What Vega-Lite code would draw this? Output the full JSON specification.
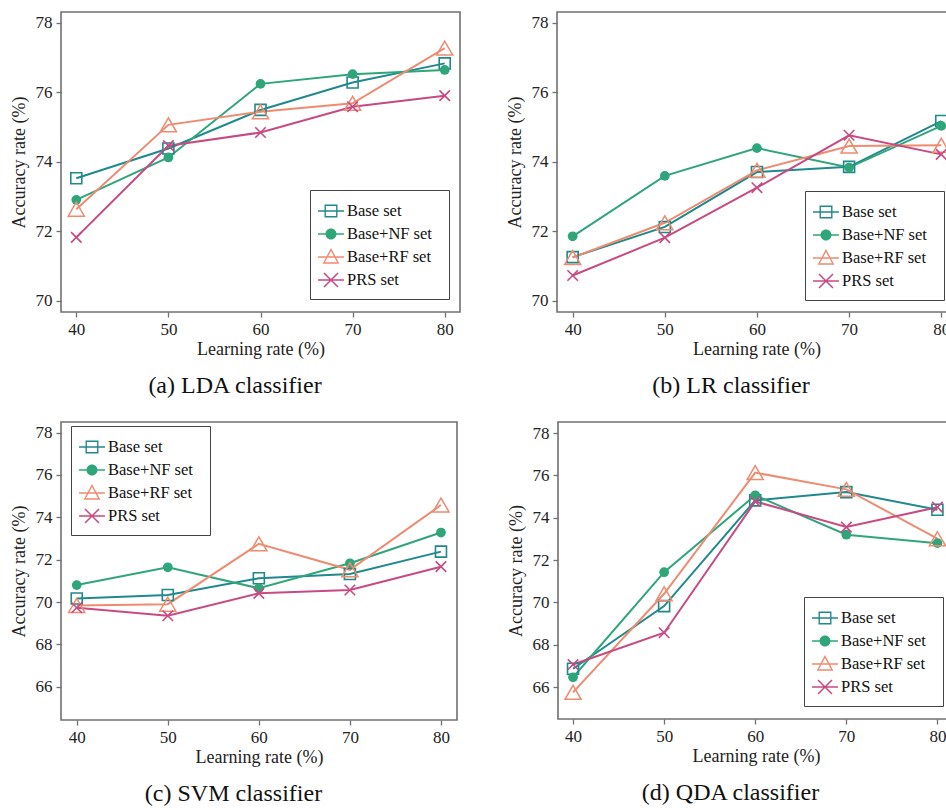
{
  "$schema": "https://vega.github.io/schema/vega-lite/v6.json",
  "background": "white",
  "padding": {"left": 9, "top": 11, "right": 0, "bottom": 0},
  "config": {
    "font": "Liberation Serif",
    "view": {"stroke": "#707070", "strokeWidth": 1.6},
    "axis": {"domain": false, "grid": false, "tickColor": "#707070", "tickSize": 5, "tickWidth": 1.3, "labelFont": "Liberation Serif", "labelFontSize": 17, "labelColor": "#222222", "titleFont": "Liberation Serif", "titleFontSize": 18, "titleFontWeight": "normal", "titleColor": "#222222", "labelPadding": 4},
    "axisY": {"titlePadding": 7},
    "axisX": {"titlePadding": 3},
    "legend": {"labelFont": "Liberation Serif", "labelFontSize": 16.5, "labelColor": "#111111", "symbolSize": 484, "symbolStrokeWidth": 0, "strokeColor": "#444444", "fillColor": "white", "padding": 10, "rowPadding": 3, "labelOffset": 5, "symbolOffset": 0, "labelLimit": 300, "titleOrient": "right", "titleFontSize": 16, "titlePadding": 7},
    "title": {"font": "Liberation Serif", "fontSize": 24, "fontWeight": "normal", "color": "#111111", "orient": "bottom", "frame": "bounds", "anchor": "middle", "offset": 16}
  },
  "datasets": {
    "acc": [
      {"clf": "LDA", "lr": 40, "set": "Base set", "acc": 73.52},
      {"clf": "LDA", "lr": 50, "set": "Base set", "acc": 74.38},
      {"clf": "LDA", "lr": 60, "set": "Base set", "acc": 75.49},
      {"clf": "LDA", "lr": 70, "set": "Base set", "acc": 76.28},
      {"clf": "LDA", "lr": 80, "set": "Base set", "acc": 76.83},
      {"clf": "LDA", "lr": 40, "set": "Base+NF set", "acc": 72.90},
      {"clf": "LDA", "lr": 50, "set": "Base+NF set", "acc": 74.12},
      {"clf": "LDA", "lr": 60, "set": "Base+NF set", "acc": 76.24},
      {"clf": "LDA", "lr": 70, "set": "Base+NF set", "acc": 76.52},
      {"clf": "LDA", "lr": 80, "set": "Base+NF set", "acc": 76.64},
      {"clf": "LDA", "lr": 40, "set": "Base+RF set", "acc": 72.63},
      {"clf": "LDA", "lr": 50, "set": "Base+RF set", "acc": 75.06},
      {"clf": "LDA", "lr": 60, "set": "Base+RF set", "acc": 75.44},
      {"clf": "LDA", "lr": 70, "set": "Base+RF set", "acc": 75.68},
      {"clf": "LDA", "lr": 80, "set": "Base+RF set", "acc": 77.27},
      {"clf": "LDA", "lr": 40, "set": "PRS set", "acc": 71.82},
      {"clf": "LDA", "lr": 50, "set": "PRS set", "acc": 74.46},
      {"clf": "LDA", "lr": 60, "set": "PRS set", "acc": 74.84},
      {"clf": "LDA", "lr": 70, "set": "PRS set", "acc": 75.58},
      {"clf": "LDA", "lr": 80, "set": "PRS set", "acc": 75.90},
      {"clf": "LR", "lr": 40, "set": "Base set", "acc": 71.25},
      {"clf": "LR", "lr": 50, "set": "Base set", "acc": 72.12},
      {"clf": "LR", "lr": 60, "set": "Base set", "acc": 73.70},
      {"clf": "LR", "lr": 70, "set": "Base set", "acc": 73.85},
      {"clf": "LR", "lr": 80, "set": "Base set", "acc": 75.17},
      {"clf": "LR", "lr": 40, "set": "Base+NF set", "acc": 71.85},
      {"clf": "LR", "lr": 50, "set": "Base+NF set", "acc": 73.59},
      {"clf": "LR", "lr": 60, "set": "Base+NF set", "acc": 74.39},
      {"clf": "LR", "lr": 70, "set": "Base+NF set", "acc": 73.83},
      {"clf": "LR", "lr": 80, "set": "Base+NF set", "acc": 75.03},
      {"clf": "LR", "lr": 40, "set": "Base+RF set", "acc": 71.24},
      {"clf": "LR", "lr": 50, "set": "Base+RF set", "acc": 72.24},
      {"clf": "LR", "lr": 60, "set": "Base+RF set", "acc": 73.75},
      {"clf": "LR", "lr": 70, "set": "Base+RF set", "acc": 74.45},
      {"clf": "LR", "lr": 80, "set": "Base+RF set", "acc": 74.47},
      {"clf": "LR", "lr": 40, "set": "PRS set", "acc": 70.72},
      {"clf": "LR", "lr": 50, "set": "PRS set", "acc": 71.81},
      {"clf": "LR", "lr": 60, "set": "PRS set", "acc": 73.25},
      {"clf": "LR", "lr": 70, "set": "PRS set", "acc": 74.76},
      {"clf": "LR", "lr": 80, "set": "PRS set", "acc": 74.21},
      {"clf": "SVM", "lr": 40, "set": "Base set", "acc": 70.17},
      {"clf": "SVM", "lr": 50, "set": "Base set", "acc": 70.33},
      {"clf": "SVM", "lr": 60, "set": "Base set", "acc": 71.12},
      {"clf": "SVM", "lr": 70, "set": "Base set", "acc": 71.32},
      {"clf": "SVM", "lr": 80, "set": "Base set", "acc": 72.38},
      {"clf": "SVM", "lr": 40, "set": "Base+NF set", "acc": 70.80},
      {"clf": "SVM", "lr": 50, "set": "Base+NF set", "acc": 71.64},
      {"clf": "SVM", "lr": 60, "set": "Base+NF set", "acc": 70.65},
      {"clf": "SVM", "lr": 70, "set": "Base+NF set", "acc": 71.83},
      {"clf": "SVM", "lr": 80, "set": "Base+NF set", "acc": 73.28},
      {"clf": "SVM", "lr": 40, "set": "Base+RF set", "acc": 69.84},
      {"clf": "SVM", "lr": 50, "set": "Base+RF set", "acc": 69.90},
      {"clf": "SVM", "lr": 60, "set": "Base+RF set", "acc": 72.75},
      {"clf": "SVM", "lr": 70, "set": "Base+RF set", "acc": 71.52},
      {"clf": "SVM", "lr": 80, "set": "Base+RF set", "acc": 74.58},
      {"clf": "SVM", "lr": 40, "set": "PRS set", "acc": 69.73},
      {"clf": "SVM", "lr": 50, "set": "PRS set", "acc": 69.35},
      {"clf": "SVM", "lr": 60, "set": "PRS set", "acc": 70.41},
      {"clf": "SVM", "lr": 70, "set": "PRS set", "acc": 70.57},
      {"clf": "SVM", "lr": 80, "set": "PRS set", "acc": 71.67},
      {"clf": "QDA", "lr": 40, "set": "Base set", "acc": 66.87},
      {"clf": "QDA", "lr": 50, "set": "Base set", "acc": 69.83},
      {"clf": "QDA", "lr": 60, "set": "Base set", "acc": 74.82},
      {"clf": "QDA", "lr": 70, "set": "Base set", "acc": 75.21},
      {"clf": "QDA", "lr": 80, "set": "Base set", "acc": 74.38},
      {"clf": "QDA", "lr": 40, "set": "Base+NF set", "acc": 66.47},
      {"clf": "QDA", "lr": 50, "set": "Base+NF set", "acc": 71.43},
      {"clf": "QDA", "lr": 60, "set": "Base+NF set", "acc": 75.06},
      {"clf": "QDA", "lr": 70, "set": "Base+NF set", "acc": 73.20},
      {"clf": "QDA", "lr": 80, "set": "Base+NF set", "acc": 72.80},
      {"clf": "QDA", "lr": 40, "set": "Base+RF set", "acc": 65.76},
      {"clf": "QDA", "lr": 50, "set": "Base+RF set", "acc": 70.41},
      {"clf": "QDA", "lr": 60, "set": "Base+RF set", "acc": 76.13},
      {"clf": "QDA", "lr": 70, "set": "Base+RF set", "acc": 75.34},
      {"clf": "QDA", "lr": 80, "set": "Base+RF set", "acc": 73.01},
      {"clf": "QDA", "lr": 40, "set": "PRS set", "acc": 67.07},
      {"clf": "QDA", "lr": 50, "set": "PRS set", "acc": 68.57},
      {"clf": "QDA", "lr": 60, "set": "PRS set", "acc": 74.77},
      {"clf": "QDA", "lr": 70, "set": "PRS set", "acc": 73.56},
      {"clf": "QDA", "lr": 80, "set": "PRS set", "acc": 74.50}
    ]
  },
  "data": {"name": "acc"},
  "spacing": 22,
  "resolve": {"scale": {"color": "independent", "shape": "independent"}, "legend": {"color": "independent", "shape": "independent"}},
  "vconcat": [
    {
      "spacing": 44,
      "resolve": {"scale": {"color": "independent", "shape": "independent"}, "legend": {"color": "independent", "shape": "independent"}},
      "hconcat": [
        {
          "width": 399, "height": 300,
          "title": {"text": "(a) LDA classifier"},
          "transform": [{"filter": "datum.clf === 'LDA'"}],
          "encoding": {
            "x": {"field": "lr", "type": "quantitative", "scale": {"domain": [38.34, 81.66], "nice": false, "zero": false}, "axis": {"values": [40, 50, 60, 70, 80], "title": "Learning rate (%)"}},
            "y": {"field": "acc", "type": "quantitative", "scale": {"domain": [69.67, 78.31], "nice": false, "zero": false}, "axis": {"values": [70, 72, 74, 76, 78], "title": "Accuracy rate (%)"}},
            "color": {"field": "set", "type": "nominal", "scale": {"domain": ["Base set", "Base+NF set", "Base+RF set", "PRS set"], "range": ["#1f898b", "#2ea67a", "#ee8b70", "#c84a82"]}, "legend": null}
          },
          "layer": [
            {"transform": [{"filter": "datum.lr < 0"}], "mark": {"type": "point", "filled": true, "opacity": 1},
             "encoding": {
               "color": {"field": "set", "type": "nominal", "scale": {"domain": ["Base set", "Base+NF set", "Base+RF set", "PRS set"], "range": ["#1f898b", "#2ea67a", "#ee8b70", "#c84a82"]}, "legend": {"title": " ", "orient": "none", "legendX": 249, "legendY": 178}},
               "shape": {"field": "set", "type": "nominal", "scale": {"domain": ["Base set", "Base+NF set", "Base+RF set", "PRS set"], "range": ["M-1.18,-0.068H1.18V0.068H-1.18ZM-0.59,-0.59H0.59V0.59H-0.59ZM-0.464,-0.464V0.464H0.464V-0.464Z", "M-1.18,-0.068H1.18V0.068H-1.18ZM-0.5,0A0.5,0.5 0 1,1 0.5,0A0.5,0.5 0 1,1 -0.5,0Z", "M-1.18,-0.068H1.18V0.068H-1.18ZM0,-0.82L0.76,0.61L-0.76,0.61ZM0,-0.549L-0.548,0.483L0.548,0.483Z", "M-1.18,-0.068H1.18V0.068H-1.18ZM-0.588,-0.684L0.684,0.588L0.588,0.684L-0.684,-0.588ZM-0.588,0.684L-0.684,0.588L0.588,-0.684L0.684,-0.588Z"]}, "legend": {"title": " ", "orient": "none", "legendX": 249, "legendY": 178}}
             }},
            {"mark": {"type": "line", "strokeWidth": 2}},
            {"transform": [{"filter": "datum.set === 'Base set'"}], "mark": {"type": "point", "shape": "square", "size": 121, "filled": false, "strokeWidth": 1.6, "opacity": 1}},
            {"transform": [{"filter": "datum.set === 'Base+NF set'"}], "mark": {"type": "point", "shape": "circle", "size": 95, "filled": true, "opacity": 1}},
            {"transform": [{"filter": "datum.set === 'Base+RF set'"}], "mark": {"type": "point", "shape": "triangle-up", "size": 260, "filled": false, "strokeWidth": 1.5, "opacity": 1}},
            {"transform": [{"filter": "datum.set === 'PRS set'"}], "mark": {"type": "point", "shape": "M-1,-1L1,1M-1,1L1,-1", "size": 110, "filled": false, "strokeWidth": 1.6, "opacity": 1}}
          ]
        },
        {
          "width": 399, "height": 300,
          "title": {"text": "(b) LR classifier"},
          "transform": [{"filter": "datum.clf === 'LR'"}],
          "encoding": {
            "x": {"field": "lr", "type": "quantitative", "scale": {"domain": [38.3, 81.6], "nice": false, "zero": false}, "axis": {"values": [40, 50, 60, 70, 80], "title": "Learning rate (%)"}},
            "y": {"field": "acc", "type": "quantitative", "scale": {"domain": [69.67, 78.31], "nice": false, "zero": false}, "axis": {"values": [70, 72, 74, 76, 78], "title": "Accuracy rate (%)"}},
            "color": {"field": "set", "type": "nominal", "scale": {"domain": ["Base set", "Base+NF set", "Base+RF set", "PRS set"], "range": ["#1f898b", "#2ea67a", "#ee8b70", "#c84a82"]}, "legend": null}
          },
          "layer": [
            {"transform": [{"filter": "datum.lr < 0"}], "mark": {"type": "point", "filled": true, "opacity": 1},
             "encoding": {
               "color": {"field": "set", "type": "nominal", "scale": {"domain": ["Base set", "Base+NF set", "Base+RF set", "PRS set"], "range": ["#1f898b", "#2ea67a", "#ee8b70", "#c84a82"]}, "legend": {"title": " ", "orient": "none", "legendX": 248, "legendY": 179}},
               "shape": {"field": "set", "type": "nominal", "scale": {"domain": ["Base set", "Base+NF set", "Base+RF set", "PRS set"], "range": ["M-1.18,-0.068H1.18V0.068H-1.18ZM-0.59,-0.59H0.59V0.59H-0.59ZM-0.464,-0.464V0.464H0.464V-0.464Z", "M-1.18,-0.068H1.18V0.068H-1.18ZM-0.5,0A0.5,0.5 0 1,1 0.5,0A0.5,0.5 0 1,1 -0.5,0Z", "M-1.18,-0.068H1.18V0.068H-1.18ZM0,-0.82L0.76,0.61L-0.76,0.61ZM0,-0.549L-0.548,0.483L0.548,0.483Z", "M-1.18,-0.068H1.18V0.068H-1.18ZM-0.588,-0.684L0.684,0.588L0.588,0.684L-0.684,-0.588ZM-0.588,0.684L-0.684,0.588L0.588,-0.684L0.684,-0.588Z"]}, "legend": {"title": " ", "orient": "none", "legendX": 248, "legendY": 179}}
             }},
            {"mark": {"type": "line", "strokeWidth": 2}},
            {"transform": [{"filter": "datum.set === 'Base set'"}], "mark": {"type": "point", "shape": "square", "size": 121, "filled": false, "strokeWidth": 1.6, "opacity": 1}},
            {"transform": [{"filter": "datum.set === 'Base+NF set'"}], "mark": {"type": "point", "shape": "circle", "size": 95, "filled": true, "opacity": 1}},
            {"transform": [{"filter": "datum.set === 'Base+RF set'"}], "mark": {"type": "point", "shape": "triangle-up", "size": 260, "filled": false, "strokeWidth": 1.5, "opacity": 1}},
            {"transform": [{"filter": "datum.set === 'PRS set'"}], "mark": {"type": "point", "shape": "M-1,-1L1,1M-1,1L1,-1", "size": 110, "filled": false, "strokeWidth": 1.6, "opacity": 1}}
          ]
        }
      ]
    },
    {
      "spacing": 48,
      "resolve": {"scale": {"color": "independent", "shape": "independent"}, "legend": {"color": "independent", "shape": "independent"}},
      "hconcat": [
        {
          "width": 396, "height": 298,
          "title": {"text": "(c) SVM classifier"},
          "transform": [{"filter": "datum.clf === 'SVM'"}],
          "encoding": {
            "x": {"field": "lr", "type": "quantitative", "scale": {"domain": [38.27, 81.76], "nice": false, "zero": false}, "axis": {"values": [40, 50, 60, 70, 80], "title": "Learning rate (%)"}},
            "y": {"field": "acc", "type": "quantitative", "scale": {"domain": [64.43, 78.5], "nice": false, "zero": false}, "axis": {"values": [66, 68, 70, 72, 74, 76, 78], "title": "Accuracy rate (%)"}},
            "color": {"field": "set", "type": "nominal", "scale": {"domain": ["Base set", "Base+NF set", "Base+RF set", "PRS set"], "range": ["#1f898b", "#2ea67a", "#ee8b70", "#c84a82"]}, "legend": null}
          },
          "layer": [
            {"transform": [{"filter": "datum.lr < 0"}], "mark": {"type": "point", "filled": true, "opacity": 1},
             "encoding": {
               "color": {"field": "set", "type": "nominal", "scale": {"domain": ["Base set", "Base+NF set", "Base+RF set", "PRS set"], "range": ["#1f898b", "#2ea67a", "#ee8b70", "#c84a82"]}, "legend": {"title": " ", "orient": "none", "legendX": 10, "legendY": 4}},
               "shape": {"field": "set", "type": "nominal", "scale": {"domain": ["Base set", "Base+NF set", "Base+RF set", "PRS set"], "range": ["M-1.18,-0.068H1.18V0.068H-1.18ZM-0.59,-0.59H0.59V0.59H-0.59ZM-0.464,-0.464V0.464H0.464V-0.464Z", "M-1.18,-0.068H1.18V0.068H-1.18ZM-0.5,0A0.5,0.5 0 1,1 0.5,0A0.5,0.5 0 1,1 -0.5,0Z", "M-1.18,-0.068H1.18V0.068H-1.18ZM0,-0.82L0.76,0.61L-0.76,0.61ZM0,-0.549L-0.548,0.483L0.548,0.483Z", "M-1.18,-0.068H1.18V0.068H-1.18ZM-0.588,-0.684L0.684,0.588L0.588,0.684L-0.684,-0.588ZM-0.588,0.684L-0.684,0.588L0.588,-0.684L0.684,-0.588Z"]}, "legend": {"title": " ", "orient": "none", "legendX": 10, "legendY": 4}}
             }},
            {"mark": {"type": "line", "strokeWidth": 2}},
            {"transform": [{"filter": "datum.set === 'Base set'"}], "mark": {"type": "point", "shape": "square", "size": 121, "filled": false, "strokeWidth": 1.6, "opacity": 1}},
            {"transform": [{"filter": "datum.set === 'Base+NF set'"}], "mark": {"type": "point", "shape": "circle", "size": 95, "filled": true, "opacity": 1}},
            {"transform": [{"filter": "datum.set === 'Base+RF set'"}], "mark": {"type": "point", "shape": "triangle-up", "size": 260, "filled": false, "strokeWidth": 1.5, "opacity": 1}},
            {"transform": [{"filter": "datum.set === 'PRS set'"}], "mark": {"type": "point", "shape": "M-1,-1L1,1M-1,1L1,-1", "size": 110, "filled": false, "strokeWidth": 1.6, "opacity": 1}}
          ]
        },
        {
          "width": 396, "height": 297,
          "title": {"text": "(d) QDA classifier"},
          "transform": [{"filter": "datum.clf === 'QDA'"}],
          "encoding": {
            "x": {"field": "lr", "type": "quantitative", "scale": {"domain": [38.35, 81.82], "nice": false, "zero": false}, "axis": {"values": [40, 50, 60, 70, 80], "title": "Learning rate (%)"}},
            "y": {"field": "acc", "type": "quantitative", "scale": {"domain": [64.5, 78.52], "nice": false, "zero": false}, "axis": {"values": [66, 68, 70, 72, 74, 76, 78], "title": "Accuracy rate (%)"}},
            "color": {"field": "set", "type": "nominal", "scale": {"domain": ["Base set", "Base+NF set", "Base+RF set", "PRS set"], "range": ["#1f898b", "#2ea67a", "#ee8b70", "#c84a82"]}, "legend": null}
          },
          "layer": [
            {"transform": [{"filter": "datum.lr < 0"}], "mark": {"type": "point", "filled": true, "opacity": 1},
             "encoding": {
               "color": {"field": "set", "type": "nominal", "scale": {"domain": ["Base set", "Base+NF set", "Base+RF set", "PRS set"], "range": ["#1f898b", "#2ea67a", "#ee8b70", "#c84a82"]}, "legend": {"title": " ", "orient": "none", "legendX": 246, "legendY": 175}},
               "shape": {"field": "set", "type": "nominal", "scale": {"domain": ["Base set", "Base+NF set", "Base+RF set", "PRS set"], "range": ["M-1.18,-0.068H1.18V0.068H-1.18ZM-0.59,-0.59H0.59V0.59H-0.59ZM-0.464,-0.464V0.464H0.464V-0.464Z", "M-1.18,-0.068H1.18V0.068H-1.18ZM-0.5,0A0.5,0.5 0 1,1 0.5,0A0.5,0.5 0 1,1 -0.5,0Z", "M-1.18,-0.068H1.18V0.068H-1.18ZM0,-0.82L0.76,0.61L-0.76,0.61ZM0,-0.549L-0.548,0.483L0.548,0.483Z", "M-1.18,-0.068H1.18V0.068H-1.18ZM-0.588,-0.684L0.684,0.588L0.588,0.684L-0.684,-0.588ZM-0.588,0.684L-0.684,0.588L0.588,-0.684L0.684,-0.588Z"]}, "legend": {"title": " ", "orient": "none", "legendX": 246, "legendY": 175}}
             }},
            {"mark": {"type": "line", "strokeWidth": 2}},
            {"transform": [{"filter": "datum.set === 'Base set'"}], "mark": {"type": "point", "shape": "square", "size": 121, "filled": false, "strokeWidth": 1.6, "opacity": 1}},
            {"transform": [{"filter": "datum.set === 'Base+NF set'"}], "mark": {"type": "point", "shape": "circle", "size": 95, "filled": true, "opacity": 1}},
            {"transform": [{"filter": "datum.set === 'Base+RF set'"}], "mark": {"type": "point", "shape": "triangle-up", "size": 260, "filled": false, "strokeWidth": 1.5, "opacity": 1}},
            {"transform": [{"filter": "datum.set === 'PRS set'"}], "mark": {"type": "point", "shape": "M-1,-1L1,1M-1,1L1,-1", "size": 110, "filled": false, "strokeWidth": 1.6, "opacity": 1}}
          ]
        }
      ]
    }
  ]
}
